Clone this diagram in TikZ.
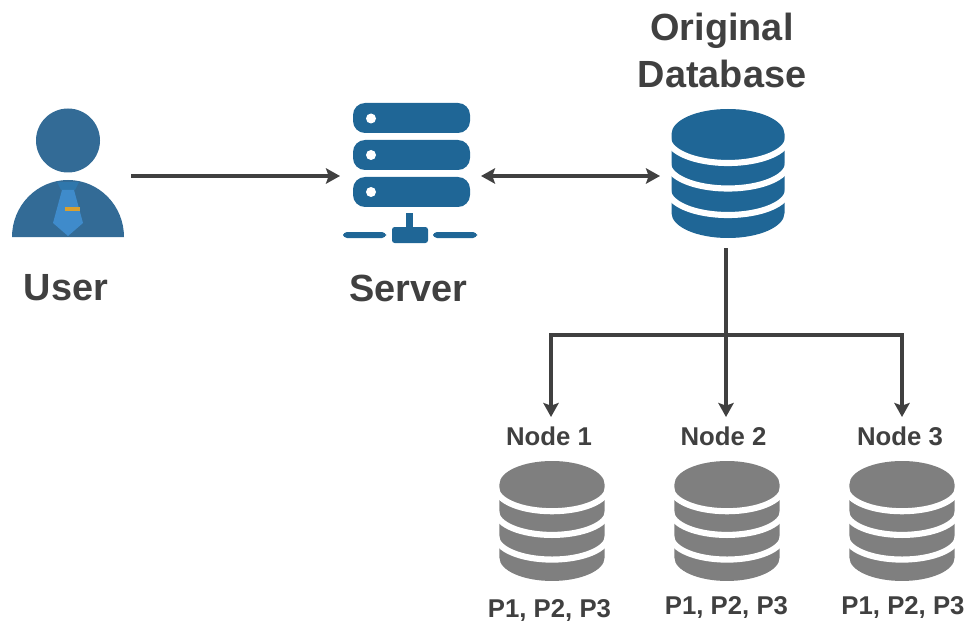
\documentclass[tikz,border=0pt]{standalone}
\usepackage{fontspec}
\setmainfont{Liberation Sans}
\usetikzlibrary{arrows.meta}
\definecolor{iconblue}{HTML}{1F6696}
\definecolor{userblue}{HTML}{336B96}
\definecolor{collarblue}{HTML}{2F77AC}
\definecolor{tieblue}{HTML}{3F8BCB}
\definecolor{clasp}{HTML}{D9A030}
\definecolor{ink}{HTML}{404040}
\definecolor{diskgray}{HTML}{7F7F7F}
\tikzset{
  bigtext/.style={font=\fontsize{28.4}{30}\selectfont\bfseries,text=ink,inner sep=0pt,anchor=base},
  smalltext/.style={font=\fontsize{19.3}{22}\selectfont\bfseries,text=ink,inner sep=0pt,anchor=base},
  link/.style={draw=ink,line width=2.8pt},
  arrowlink/.style={link,-{Stealth[length=10.5pt,width=11.5pt,inset=2pt]}},
  biarrowlink/.style={link,{Stealth[length=10.5pt,width=11.5pt,inset=2pt]}-{Stealth[length=10.5pt,width=11.5pt,inset=2pt]}},
  iconbox/.style={inner sep=0pt,outer sep=0pt,draw=none,fill=none},
  band/.style={draw=white,line width=4.6pt},
}
% disk stack, local origin at the middle of its top edge, unscaled size 113 x 129
\newcommand{\diskstack}[4]{%
  \begin{scope}[shift={(#1,#2)},scale=#3]
    \fill[#4] (-56.5,25) -- (-56.5,104) arc[start angle=180,end angle=0,x radius=56.5,y radius=25]
      -- (56.5,25) arc[start angle=0,end angle=-180,x radius=56.5,y radius=25] -- cycle;
    \foreach \yy in {29,54.5,81}{
      \draw[band] (-60,\yy) arc[start angle=180,end angle=0,x radius=60,y radius=25];
    }
  \end{scope}}
\begin{document}
\begin{tikzpicture}[x=0.75pt,y=-0.75pt]
\useasboundingbox (0,0) rectangle (971,624);
% user icon
\fill[userblue] (68,140.5) circle[radius=32];
\fill[userblue] (12,237) arc[start angle=180,end angle=360,x radius=56,y radius=57] -- cycle;
\fill[collarblue] (57,182) -- (79,182) -- (75,190) -- (61,190) -- cycle;
\fill[tieblue] (62,190) -- (74,190) -- (83,223) -- (68,236) -- (53,223) -- cycle;
\fill[clasp] (65,207) rectangle (80,211);
% server icon
\foreach \rowtop/\doty in {103/118.5,140/155,177/192}{
  \fill[iconblue,rounded corners=9pt] (353,\rowtop) rectangle (470,\rowtop+30);
  \fill[white] (371,\doty) circle[radius=5];
}
\fill[iconblue] (406,213) rectangle (413,228);
\fill[iconblue,rounded corners=2pt] (392,227) rectangle (428,243);
\fill[iconblue,rounded corners=3pt] (343,232) rectangle (386,238);
\fill[iconblue,rounded corners=3pt] (433,232) rectangle (477,238);
% disks
\diskstack{728}{109}{1}{iconblue}
\diskstack{552}{461}{0.93}{diskgray}
\diskstack{727}{461}{0.93}{diskgray}
\diskstack{902}{461}{0.93}{diskgray}
% anchor boxes around the icons
\node[iconbox,minimum width=89.25pt,minimum height=103.5pt] (user) at (71.5,176) {};
\node[iconbox,minimum width=105.75pt,minimum height=114pt] (server) at (410.5,176) {};
\node[iconbox,minimum width=99pt,minimum height=108pt] (origdb) at (726,176) {};
% texts
\node[bigtext] (t1) at (722,41) {Original};
\node[bigtext] (t2) at (722,88) {Database};
\node[bigtext] (t3) at (66,300) {User};
\node[bigtext] (t4) at (408,301) {Server};
\node[smalltext] (l1) at (549,445) {Node 1};
\node[smalltext] (l2) at (723.5,445) {Node 2};
\node[smalltext] (l3) at (900,445) {Node 3};
\node[smalltext] (p1) at (549.5,617) {P1, P2, P3};
\node[smalltext] (p2) at (726.5,614) {P1, P2, P3};
\node[smalltext] (p3) at (903,614) {P1, P2, P3};
% connectors
\coordinate (hub) at (726,335);
\coordinate (in1) at (551,417);
\coordinate (in2) at (726,417);
\coordinate (in3) at (902,417);
\draw[arrowlink] (user.east) -- (server.west);
\draw[biarrowlink] (server.east) -- (origdb.west);
\draw[arrowlink] (origdb.south) -- (in2);
\draw[arrowlink] (hub) -| (in1);
\draw[arrowlink] (hub) -| (in3);
\end{tikzpicture}
\end{document}
